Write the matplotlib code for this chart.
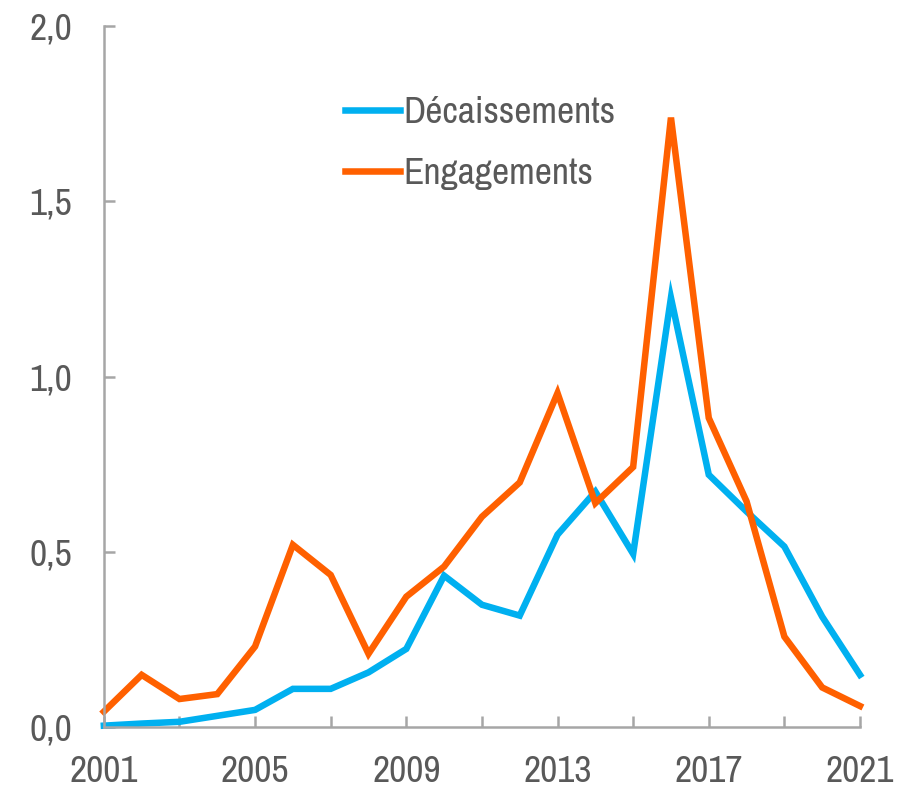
import matplotlib
matplotlib.use("Agg")
import matplotlib.pyplot as plt
from matplotlib import font_manager
from matplotlib.ticker import FixedLocator, FuncFormatter

years = list(range(2001, 2022))
decaissements = [0.004, 0.010, 0.015, 0.032, 0.049, 0.109, 0.109, 0.156, 0.223, 0.432,
                 0.349, 0.318, 0.549, 0.672, 0.494, 1.225, 0.720, 0.615, 0.515, 0.315, 0.149]
engagements = [0.044, 0.149, 0.080, 0.094, 0.230, 0.520, 0.434, 0.209, 0.372, 0.458,
               0.600, 0.698, 0.953, 0.639, 0.742, 1.739, 0.882, 0.644, 0.258, 0.113, 0.060]
series_labels = ["Décaissements", "Engagements"]
x_tick_labels = [2001, 2005, 2009, 2013, 2017, 2021]
y_ticks = [0.0, 0.5, 1.0, 1.5, 2.0]

# pick a condensed sans face if one is installed
names = {f.name for f in font_manager.fontManager.ttflist}
preferred = ["Liberation Sans Narrow", "Arial Narrow", "Archivo Narrow", "PT Sans Narrow",
             "Roboto Condensed", "Open Sans Condensed", "Liberation Sans"]
family = [n for n in preferred if n in names][:1] or ["DejaVu Sans"]
plt.rcParams["font.family"] = family + ["DejaVu Sans"]

text_color = "#595959"
axis_color = "#A6A6A6"
fs = 27

fig = plt.figure(figsize=(9.11, 7.92), dpi=100)
ax = fig.add_axes([0.114, 0.082, 0.830, 0.885])

ax.plot(years, decaissements, color="#00B0F0", lw=4.7, solid_joinstyle="miter",
        label=series_labels[0], clip_on=False)
ax.plot(years, engagements, color="#FF6000", lw=4.7, solid_joinstyle="miter",
        label=series_labels[1], clip_on=False)

ax.set_xlim(2001, 2021)
ax.set_ylim(0, 2.0)

ax.xaxis.set_major_locator(FixedLocator(x_tick_labels))
ax.xaxis.set_minor_locator(FixedLocator([y for y in years if (y - 2001) % 4 == 2]))
ax.yaxis.set_major_locator(FixedLocator(y_ticks))
ax.yaxis.set_major_formatter(FuncFormatter(lambda v, p: f"{v:.1f}".replace(".", ",")))

for s in ["top", "right"]:
    ax.spines[s].set_visible(False)
for s in ["left", "bottom"]:
    ax.spines[s].set_color(axis_color)
    ax.spines[s].set_linewidth(1.8)

ax.tick_params(axis="both", which="both", direction="in", length=8, width=1.8,
               color=axis_color, labelcolor=text_color, labelsize=fs)
ax.tick_params(axis="x", which="major", pad=20)
ax.tick_params(axis="y", which="major", pad=23)

leg = ax.legend(loc="upper left", bbox_to_anchor=(0.319, 0.90), frameon=False,
                fontsize=fs, handlelength=1.47, handletextpad=0.08, labelspacing=0.74,
                borderpad=0, borderaxespad=0)
for t in leg.get_texts():
    t.set_color(text_color)

fig.savefig("out.png", dpi=100)
